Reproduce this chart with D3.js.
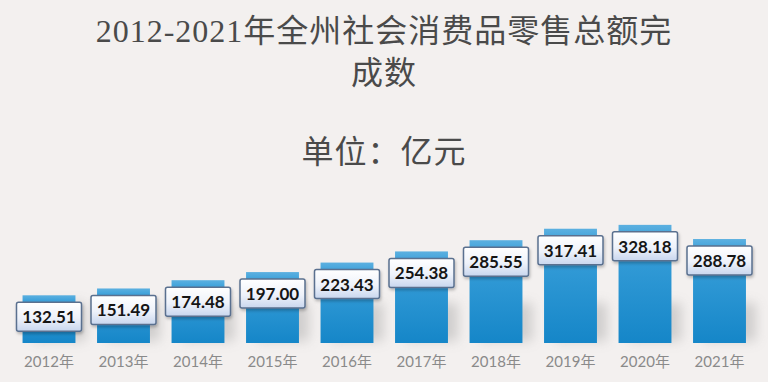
<!DOCTYPE html>
<html>
<head>
<meta charset="utf-8">
<script src="https://cdn.jsdelivr.net/npm/d3@7"></script>
<style>
  html, body { margin: 0; padding: 0; background: #f3f0ef; }
  svg { display: block; }
</style>
</head>
<body>
<div id="chart"></div>
<script>
// data
var years = ["2012年", "2013年", "2014年", "2015年", "2016年", "2017年", "2018年", "2019年", "2020年", "2021年"];
var sales = [132.51, 151.49, 174.48, 197.00, 223.43, 254.38, 285.55, 317.41, 328.18, 288.78];
var titleLines = ["2012-2021年全州社会消费品零售总额完", "成数"];
var unitText = "单位：亿元";

var W = 768, H = 382;
var svg = d3.select("#chart").append("svg")
    .attr("width", W)
    .attr("height", H);

svg.append("rect").attr("width", W).attr("height", H).attr("fill", "#f3f0ef");

var defs = svg.append("defs");

// bar fill: lighter at top, deeper blue at the bottom
var barGrad = defs.append("linearGradient").attr("id", "barGrad")
    .attr("x1", 0).attr("y1", 0).attr("x2", 0).attr("y2", 1);
barGrad.append("stop").attr("offset", "0%").attr("stop-color", "#5cb0e0");
barGrad.append("stop").attr("offset", "12%").attr("stop-color", "#3aa0da");
barGrad.append("stop").attr("offset", "100%").attr("stop-color", "#1586c8");

// label box fill
var boxGrad = defs.append("linearGradient").attr("id", "boxGrad")
    .attr("x1", 0).attr("y1", 0).attr("x2", 0).attr("y2", 1);
boxGrad.append("stop").attr("offset", "0%").attr("stop-color", "#ffffff");
boxGrad.append("stop").attr("offset", "55%").attr("stop-color", "#eef2fa");
boxGrad.append("stop").attr("offset", "100%").attr("stop-color", "#c8d6ee");

defs.append("filter").attr("id", "blur")
    .attr("x", "-50%").attr("y", "-50%").attr("width", "200%").attr("height", "200%")
    .append("feGaussianBlur").attr("stdDeviation", 6);

defs.append("filter").attr("id", "boxShadow")
    .attr("x", "-20%").attr("y", "-20%").attr("width", "140%").attr("height", "160%")
    .append("feDropShadow").attr("dx", 1).attr("dy", 2).attr("stdDeviation", 1.5)
    .attr("flood-color", "#000").attr("flood-opacity", 0.25);

// scales
var x = d3.scaleBand()
    .domain(years)
    .range([11.75, 756.75])
    .paddingInner(0.29)
    .paddingOuter(0.145);

var y = d3.scaleLinear()
    .domain([0, 350])
    .range([343, 217]);

// title
var title = svg.append("g").attr("text-anchor", "middle").attr("fill", "#4a4a4a")
    .style("font-family", "'Liberation Serif', 'Noto Sans CJK SC', serif")
    .style("font-size", "32px")
    .style("letter-spacing", "1px");
title.selectAll("text").data(titleLines).enter().append("text")
    .attr("x", W / 2)
    .attr("y", function(d, i) { return 42 + i * 42; })
    .text(function(d) { return d; });

svg.append("text")
    .attr("x", W / 2).attr("y", 163)
    .attr("text-anchor", "middle")
    .attr("fill", "#4a4a4a")
    .style("font-family", "'Liberation Serif', 'Noto Sans CJK SC', serif")
    .style("font-size", "32px")
    .style("letter-spacing", "1px")
    .text(unitText);

// soft shadows behind the bars
svg.append("g").selectAll("rect").data(sales).enter().append("rect")
    .attr("x", function(d, i) { return x(years[i]) + 10; })
    .attr("y", y(0) - 40)
    .attr("width", x.bandwidth())
    .attr("height", 38)
    .attr("fill", "#8f8f8f")
    .attr("opacity", 0.35)
    .attr("filter", "url(#blur)");

// bars
svg.append("g").selectAll("rect").data(sales).enter().append("rect")
    .attr("x", function(d, i) { return x(years[i]); })
    .attr("y", function(d) { return y(d); })
    .attr("width", x.bandwidth())
    .attr("height", function(d) { return y(0) - y(d); })
    .attr("fill", "url(#barGrad)");

// value boxes
var boxW = 65, boxH = 29;
var labels = svg.append("g").selectAll("g").data(sales).enter().append("g")
    .attr("transform", function(d, i) {
        return "translate(" + (x(years[i]) + x.bandwidth() / 2) + "," + (y(d) + 7) + ")";
    });

labels.append("rect")
    .attr("x", -boxW / 2).attr("y", 0)
    .attr("width", boxW).attr("height", boxH)
    .attr("rx", 2)
    .attr("fill", "url(#boxGrad)")
    .attr("stroke", "#5a708f")
    .attr("stroke-width", 1.5)
    .attr("filter", "url(#boxShadow)");

labels.append("text")
    .attr("x", 0).attr("y", boxH / 2 + 6.5)
    .attr("text-anchor", "middle")
    .attr("fill", "#151515")
    .style("font-family", "Lato, 'Liberation Sans', sans-serif")
    .style("font-weight", "bold")
    .style("font-size", "17px")
    .text(function(d) { return d.toFixed(2); });

// x axis (labels only)
var xAxis = svg.append("g")
    .attr("transform", "translate(0," + 352 + ")")
    .call(d3.axisBottom(x).tickSize(0).tickPadding(0));
xAxis.select(".domain").remove();
xAxis.selectAll("text")
    .attr("dy", "1em")
    .attr("fill", "#8a8a8a")
    .style("font-family", "Lato, 'Noto Sans CJK SC', sans-serif")
    .style("font-size", "15px");
</script>
</body>
</html>
